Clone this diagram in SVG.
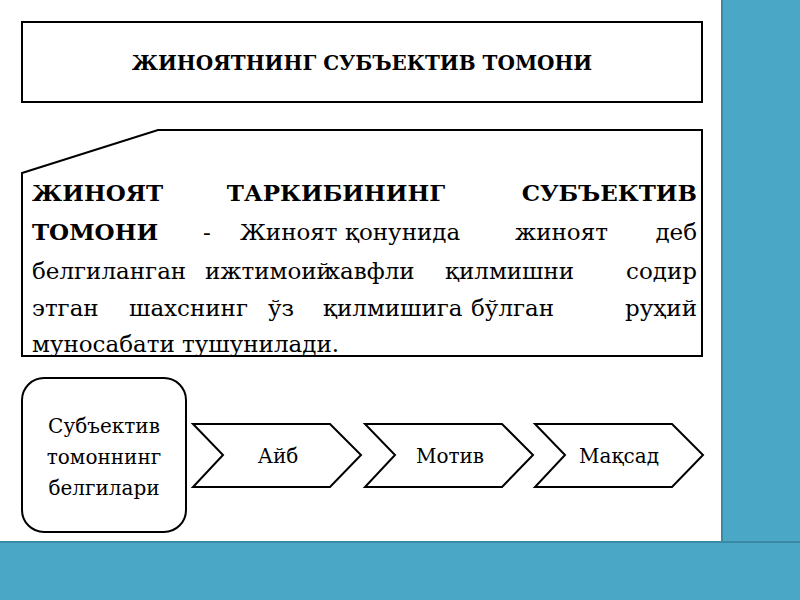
<svg xmlns="http://www.w3.org/2000/svg" width="800" height="600" viewBox="0 0 800 600">
<style>
.b{fill:#fff;stroke:#000;stroke-width:2}
text{font-family:'DejaVu Serif','Liberation Serif',serif;fill:#000}
.t text{font-size:23px}
.bd{font-weight:bold}
.s{font-size:20px;text-anchor:middle}
</style>
<rect width="800" height="600" fill="#fff"/>
<rect x="722" y="0" width="78" height="600" fill="#4aa8c6"/>
<rect x="0" y="542" width="800" height="58" fill="#4aa8c6"/>
<line x1="722" y1="0" x2="722" y2="542" stroke="#3a8aa5" stroke-width="2"/>
<line x1="0" y1="542" x2="800" y2="542" stroke="#3a8aa5" stroke-width="2"/>
<g id="title"><rect class="b" x="22" y="22" width="680" height="80"/>
<text x="362" y="70" class="s bd" font-size="19">ЖИНОЯТНИНГ СУБЪЕКТИВ ТОМОНИ</text></g>
<g id="definition"><polygon class="b" points="22,173 158,130 702,130 702,356 22,356"/>
<g class="t">
<text x="32" y="201" class="bd">ЖИНОЯТ</text><text x="336" y="201" class="bd" text-anchor="middle">ТАРКИБИНИНГ</text><text x="697" y="201" class="bd" text-anchor="end">СУБЪЕКТИВ</text>
<text x="32" y="240" class="bd">ТОМОНИ</text><text x="203" y="240">-</text><text x="240" y="240">Жиноят</text><text x="345" y="240">қонунида</text><text x="515" y="240">жиноят</text><text x="697" y="240" text-anchor="end">деб</text>
<text x="32" y="279">белгиланган</text><text x="205" y="279">ижтимоий</text><text x="327" y="279">хавфли</text><text x="445" y="279">қилмишни</text><text x="697" y="279" text-anchor="end">содир</text>
<text x="32" y="316">этган</text><text x="129" y="316">шахснинг</text><text x="268" y="316">ўз</text><text x="323" y="316">қилмишига</text><text x="471" y="316">бўлган</text><text x="697" y="316" text-anchor="end">руҳий</text>
<text x="32" y="352">муносабати тушунилади.</text>
</g></g>
<g id="signs"><rect class="b" x="22" y="378" width="164" height="154" rx="22"/>
<text class="s" x="104" y="433">Субъектив</text><text class="s" x="104" y="464">томоннинг</text><text class="s" x="104" y="495">белгилари</text></g>
<g id="ayb"><polygon class="b" points="193,424 330,424 361,455 330,487 193,487 223,455"/><text class="s" x="278" y="463">Айб</text></g>
<g id="motiv"><polygon class="b" points="365,424 502,424 533,455 502,487 365,487 395,455"/><text class="s" x="450" y="463">Мотив</text></g>
<g id="maqsad"><polygon class="b" points="535,424 672,424 703,455 672,487 535,487 565,455"/><text class="s" x="619" y="463">Мақсад</text></g>
<g id="connectors"></g>
</svg>
